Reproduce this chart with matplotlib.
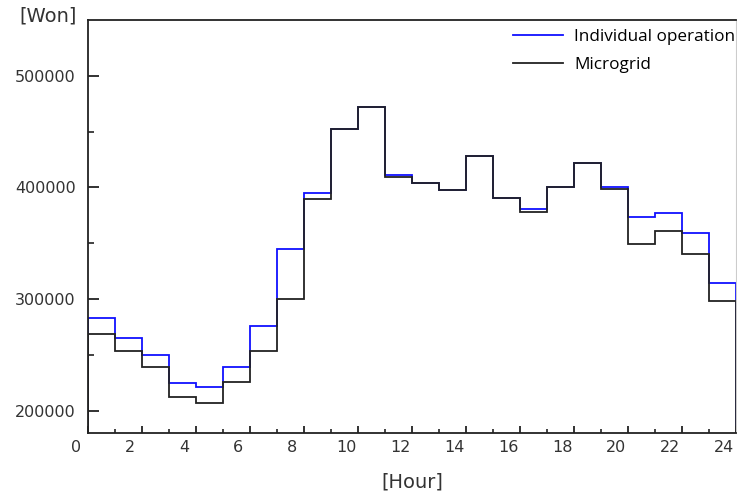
import numpy as np
import matplotlib
matplotlib.use("Agg")
import matplotlib.pyplot as plt
from matplotlib.transforms import ScaledTranslation

# hourly cost, hours 0..23 (each value holds for one hour)
hours = np.arange(25)
individual = [283300, 264900, 249700, 225000, 221400, 238700, 275900, 344600,
              394900, 452200, 471900, 411000, 403600, 398000, 428600, 390800,
              381000, 400300, 422000, 400600, 373800, 376800, 358900, 314000]
microgrid = [268700, 253800, 238700, 212200, 206800, 225600, 253800, 300000,
             389600, 452200, 471700, 409700, 403600, 398000, 428600, 390800,
             378000, 400300, 422000, 398500, 349700, 360700, 340200, 298200]

fig = plt.figure(figsize=(7.37, 4.93), dpi=100)
ax = fig.add_axes([88 / 737, 60 / 493, 648 / 737, 413 / 493])

ax.stairs(individual, hours, color="#1010ff", linewidth=1.3, label="Individual operation")
ax.stairs(microgrid, hours, color="#222222", linewidth=1.3, label="Microgrid")

ax.set_xlim(0, 24)
ax.set_ylim(180000, 550000)
ax.set_xticks(np.arange(0, 25, 2))
ax.set_xticks(np.arange(1, 25, 2), minor=True)
ax.set_yticks([200000, 300000, 400000, 500000])
ax.set_yticks([250000, 350000, 450000], minor=True)

for s in ax.spines.values():
    s.set_linewidth(1.3)
    s.set_color("#222222")
ax.spines["right"].set_color("#cccccc")
ax.spines["right"].set_linewidth(0.8)

ax.tick_params(axis="both", which="both", direction="in", colors="#222222",
               labelsize=11.5, labelcolor="#333333")
ax.tick_params(axis="x", which="major", length=5, width=1.3, pad=5)
ax.tick_params(axis="x", which="minor", length=3, width=1.2)
ax.tick_params(axis="y", which="major", length=8, width=1.3, pad=9)
ax.tick_params(axis="y", which="minor", length=4.5, width=1.2)

# x labels sit slightly left of their ticks in the original
shift = ScaledTranslation(-12 / 100, 0, fig.dpi_scale_trans)
for lab in ax.get_xticklabels():
    lab.set_transform(lab.get_transform() + shift)

fig.text(48 / 737, 1 - 16 / 493, "[Won]", ha="center", va="center",
         fontsize=14, color="#333333")
fig.text(412 / 737, 1 - 482 / 493, "[Hour]", ha="center", va="center",
         fontsize=14, color="#333333")

ax.legend(loc="upper left", bbox_to_anchor=(513 / 737, 1 - 29 / 493),
          bbox_transform=fig.transFigure, frameon=False, borderpad=0,
          borderaxespad=0, handlelength=2.9, handletextpad=0.7,
          labelspacing=0.68, prop={"family": "Open Sans", "size": 12.3})

fig.savefig("out.png", dpi=100)
